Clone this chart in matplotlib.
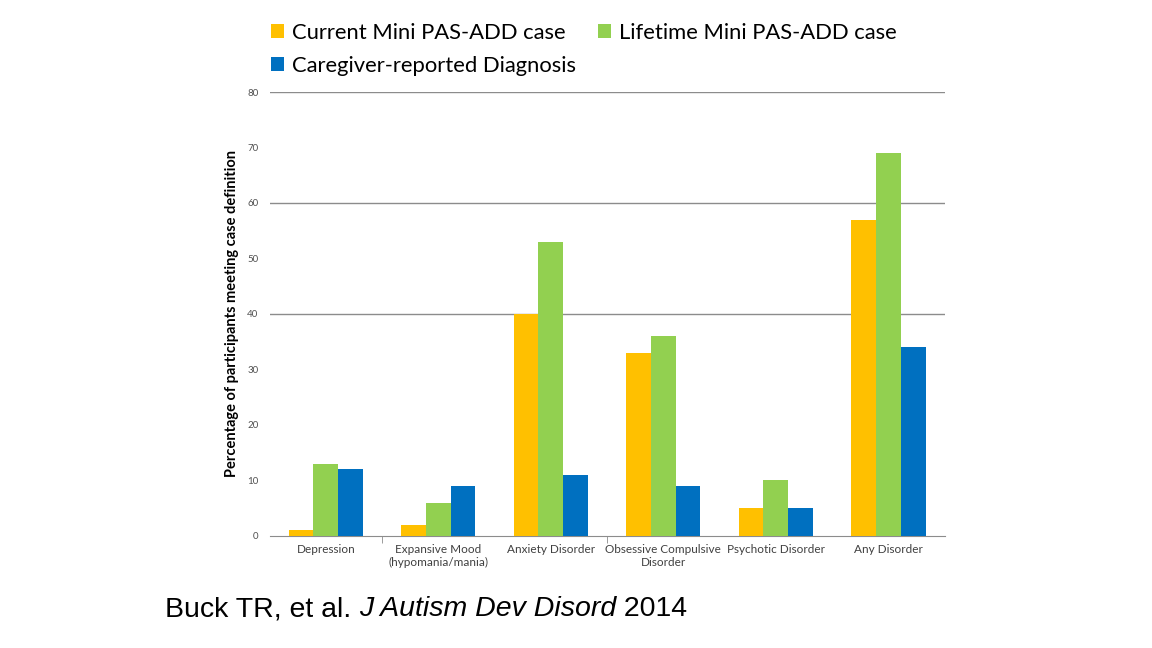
import matplotlib
matplotlib.use("Agg")
import matplotlib.pyplot as plt
import numpy as np

categories = ["Depression", "Expansive Mood\n(hypomania/mania)", "Anxiety Disorder",
              "Obsessive Compulsive\nDisorder", "Psychotic Disorder", "Any Disorder"]
current = [1, 2, 40, 33, 5, 57]
lifetime = [13, 6, 53, 36, 10, 69]
caregiver = [12, 9, 11, 9, 5, 34]
series_names = ["Current Mini PAS-ADD case", "Lifetime Mini PAS-ADD case",
                "Caregiver-reported Diagnosis"]
colors = ["#FFC000", "#92D050", "#0070C0"]

plt.rcParams['font.family'] = ['Lato', 'DejaVu Sans']

fig = plt.figure(figsize=(11.52, 6.48), dpi=100)
ax = fig.add_axes([0.234, 0.173, 0.586, 0.685])

x = np.arange(len(categories))
w = 0.22
bars = []
for i, (vals, c) in enumerate(zip([current, lifetime, caregiver], colors)):
    bars.append(ax.bar(x + (i - 1) * w, vals, w, color=c, zorder=3))

ax.set_xlim(-0.5, 5.5)
ax.set_ylim(0, 80)
ax.set_yticks(range(0, 81, 10))
ax.set_yticklabels([str(v) for v in range(0, 81, 10)], fontsize=7, color="#505050")
ax.tick_params(axis="y", length=0, pad=8)
for v in [40, 60, 80]:
    ax.axhline(v, color="#8c8c8c", lw=1, zorder=1)

ax.set_xticks(x)
ax.set_xticklabels(categories, fontsize=8.5, color="#404040")
ax.tick_params(axis="x", length=0, pad=6)
ax.set_xticks([0.5, 2.5], minor=True)
ax.tick_params(axis="x", which="minor", length=5, color="#8c8c8c")

for s in ["top", "right", "left"]:
    ax.spines[s].set_visible(False)
ax.spines["bottom"].set_color("#8c8c8c")

ax.set_ylabel("Percentage of participants meeting case definition", fontsize=10.5,
              fontweight="bold", labelpad=2)
ax.yaxis.set_label_coords(-0.045, 0.5)

# row-major order: Current, Lifetime / Caregiver
order = [0, 2, 1]
fig.legend([bars[i][0] for i in order], [series_names[i] for i in order],
           loc="upper left", bbox_to_anchor=(0.218, 0.995), ncol=2, frameon=False,
           fontsize=15.8, handlelength=0.6, handleheight=0.6, handletextpad=0.35,
           columnspacing=1.0, labelspacing=0.6)

# citation, pieces placed one after another
parts = [("Buck TR, et al. ", "normal"), ("J Autism Dev Disord", "italic"), (" 2014", "normal")]
fig.canvas.draw()
renderer = fig.canvas.get_renderer()
xpos = 165
for txt, st in parts:
    t = fig.text(xpos / 1152, 1 - 616 / 648, txt, fontsize=20.5, family="Liberation Sans",
                 style=st, color="black")
    bb = t.get_window_extent(renderer)
    xpos = bb.x1

plt.savefig("out.png", dpi=100)
